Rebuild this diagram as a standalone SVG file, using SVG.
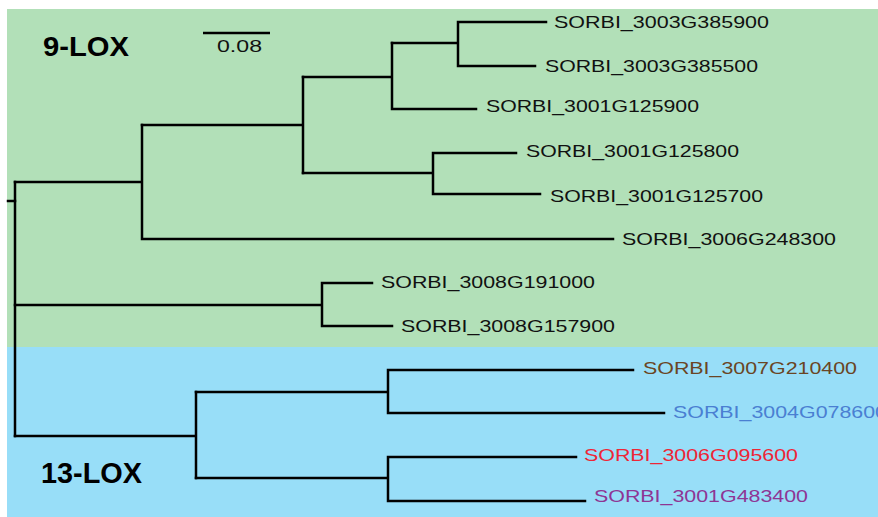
<svg xmlns="http://www.w3.org/2000/svg" width="878" height="517" viewBox="0 0 878 517">
<style>
.br{fill:none;stroke:#000;stroke-width:2.5;stroke-linecap:square}
.lb{font-family:"Liberation Sans",Arial,sans-serif;font-size:17px;fill:#111}
.grp{font-family:"Liberation Sans",Arial,sans-serif;font-weight:bold;fill:#000}
</style>
<rect x="0" y="0" width="878" height="517" fill="#fff"/>
<g id="clade-9lox-bg"><rect x="7" y="9" width="871" height="338" fill="#b2e0b8"/></g>
<g id="clade-13lox-bg"><rect x="7" y="347" width="871" height="170" fill="#98def8"/></g>
<g id="labels-groups">
<text class="grp" x="43" y="56" font-size="28.5" textLength="86" lengthAdjust="spacingAndGlyphs">9-LOX</text>
<text class="grp" x="41" y="483" font-size="29" textLength="101" lengthAdjust="spacingAndGlyphs">13-LOX</text>
</g>
<g id="scale">
<line x1="203" y1="33" x2="270" y2="33" stroke="#000" stroke-width="2.5"/>
<text class="lb" x="217" y="52" font-size="14" textLength="45" lengthAdjust="spacingAndGlyphs">0.08</text>
</g>
<g id="connectors" class="br">
<path d="M8,201H15"/>
<path d="M15,182V436"/>
<path d="M15,182H142M142,125V239M142,239H613"/>
<path d="M142,125H303M303,77V173"/>
<path d="M303,77H392M392,43V109M392,109H476"/>
<path d="M392,43H458M458,22V66M458,22H546M458,66H535"/>
<path d="M303,173H433M433,153V194M433,153H516M433,194H540"/>
<path d="M15,305H322M322,283V326M322,283H372M322,326H392"/>
<path d="M15,436H196M196,392V478"/>
<path d="M196,392H388M388,370V413M388,370H633M388,413H664"/>
<path d="M196,478H388M388,457V501M388,457H576M388,501H585"/>
</g>
<g id="n-SORBI_3003G385900"><text class="lb" x="554" y="28" textLength="215" lengthAdjust="spacingAndGlyphs">SORBI_3003G385900</text></g>
<g id="n-SORBI_3003G385500"><text class="lb" x="545" y="72" textLength="213" lengthAdjust="spacingAndGlyphs">SORBI_3003G385500</text></g>
<g id="n-SORBI_3001G125900"><text class="lb" x="486" y="112" textLength="213" lengthAdjust="spacingAndGlyphs">SORBI_3001G125900</text></g>
<g id="n-SORBI_3001G125800"><text class="lb" x="526" y="157" textLength="213" lengthAdjust="spacingAndGlyphs">SORBI_3001G125800</text></g>
<g id="n-SORBI_3001G125700"><text class="lb" x="550" y="202" textLength="213" lengthAdjust="spacingAndGlyphs">SORBI_3001G125700</text></g>
<g id="n-SORBI_3006G248300"><text class="lb" x="622" y="245" textLength="214" lengthAdjust="spacingAndGlyphs">SORBI_3006G248300</text></g>
<g id="n-SORBI_3008G191000"><text class="lb" x="381" y="288" textLength="214" lengthAdjust="spacingAndGlyphs">SORBI_3008G191000</text></g>
<g id="n-SORBI_3008G157900"><text class="lb" x="401" y="332" textLength="214" lengthAdjust="spacingAndGlyphs">SORBI_3008G157900</text></g>
<g id="n-SORBI_3007G210400"><text class="lb" x="643" y="374" textLength="214" lengthAdjust="spacingAndGlyphs" style="fill:#6a4524">SORBI_3007G210400</text></g>
<g id="n-SORBI_3004G078600"><text class="lb" x="673" y="418" textLength="214" lengthAdjust="spacingAndGlyphs" style="fill:#4a7fd2">SORBI_3004G078600</text></g>
<g id="n-SORBI_3006G095600"><text class="lb" x="584" y="461" textLength="214" lengthAdjust="spacingAndGlyphs" style="fill:#ee2536">SORBI_3006G095600</text></g>
<g id="n-SORBI_3001G483400"><text class="lb" x="594" y="502" textLength="214" lengthAdjust="spacingAndGlyphs" style="fill:#8e3594">SORBI_3001G483400</text></g>
</svg>
